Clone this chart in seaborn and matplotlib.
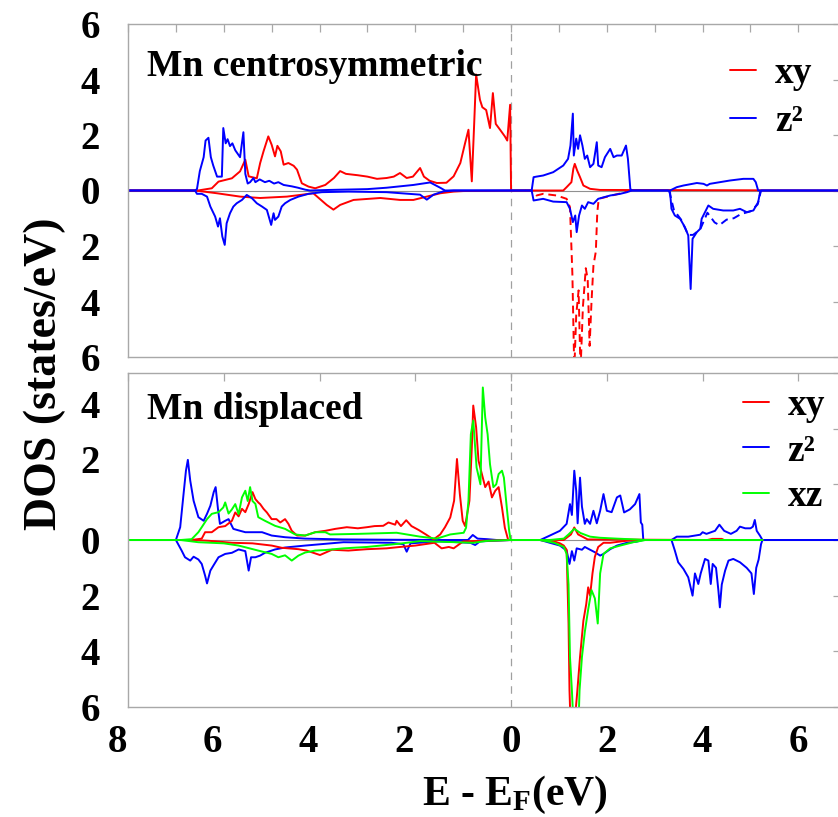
import matplotlib
matplotlib.use('Agg')
import matplotlib.pyplot as plt
from matplotlib.lines import Line2D
from matplotlib.ticker import FuncFormatter
from matplotlib.transforms import ScaledTranslation
import numpy as np
import pandas as pd
import seaborn as sns

# ---- data: (E - EF [eV], DOS [states/eV]), spin down drawn negative ----
# top panel: Mn centrosymmetric
top_xy_up = [(-8.0, 0), (-6.54, 0), (-6.25, 0.08), (-6.11, 0.32), (-5.83, 0.44), (-5.66, 0.69), (-5.55, 1.11),
             (-5.48, 0.51), (-5.31, 0.44), (-5.24, 0.99), (-5.17, 1.41), (-5.07, 1.95), (-5.0, 1.65), (-4.93, 1.23),
             (-4.88, 1.61), (-4.81, 1.41), (-4.75, 0.93), (-4.65, 0.99), (-4.54, 0.89), (-4.47, 0.75), (-4.37, 0.26),
             (-4.23, 0.14), (-4.09, 0.08), (-3.88, 0.2), (-3.7, 0.45), (-3.57, 0.7), (-3.45, 0.6), (-3.2, 0.55),
             (-3.0, 0.5), (-2.8, 0.42), (-2.6, 0.45), (-2.45, 0.5), (-2.32, 0.63), (-2.18, 0.45), (-2.05, 0.5),
             (-1.9, 0.81), (-1.82, 0.5), (-1.7, 0.35), (-1.55, 0.27), (-1.35, 0.28), (-1.2, 0.51), (-1.06, 0.99),
             (-0.96, 1.71), (-0.89, 2.19), (-0.82, 0.33), (-0.77, 2.43), (-0.73, 4.18), (-0.65, 3.27), (-0.6, 3.0),
             (-0.52, 2.9), (-0.44, 2.25), (-0.38, 3.51), (-0.32, 2.4), (-0.23, 2.19), (-0.13, 1.95), (-0.08, 1.8),
             (-0.02, 3.09), (0.0, 0.0), (1.09, 0), (1.16, 0.12), (1.26, 0.3), (1.3, 0.78), (1.33, 0.96), (1.38, 0.72),
             (1.44, 0.48), (1.51, 0.18), (1.65, 0.06), (1.86, 0.02), (6.9, 0)]
top_xy_dn = [(-8.0, 0), (-6.6, 0), (-6.14, -0.1), (-5.66, -0.22), (-5.24, -0.27), (-4.68, -0.22), (-4.13, -0.1),
             (-3.85, -0.52), (-3.71, -0.69), (-3.57, -0.52), (-3.29, -0.34), (-2.73, -0.27), (-2.32, -0.34),
             (-2.04, -0.34), (-1.76, -0.22), (-1.48, -0.1), (-1.2, -0.04), (-1.0, -0.02), (0.3, 0)]
top_xy_dn_cb = [(0.3, 0), (0.43, 0), (0.53, -0.18), (0.67, -0.12), (0.95, -0.18), (1.16, -0.3), (1.23, -0.6),
                (1.28, -3.0), (1.32, -6.5), (1.36, -4.5), (1.41, -3.6), (1.45, -6.5), (1.5, -4.2), (1.56, -2.8),
                (1.6, -3.2), (1.64, -5.6), (1.68, -4.0), (1.72, -2.7), (1.77, -2.2), (1.8, -0.8), (1.83, -0.3),
                (2.06, -0.2), (2.34, -0.08), (2.48, 0), (2.6, 0)]
top_z2_up = [(-8.0, 0), (-6.6, 0), (-6.56, 0.05), (-6.5, 0.7), (-6.42, 1.2), (-6.38, 1.8), (-6.32, 1.9), (-6.27, 1.2),
             (-6.22, 0.9), (-6.14, 0.5), (-6.04, 0.5), (-6.01, 2.25), (-5.96, 1.7), (-5.92, 1.85), (-5.87, 1.6),
             (-5.82, 1.7), (-5.76, 1.45), (-5.7, 1.3), (-5.66, 1.2), (-5.59, 2.1), (-5.55, 0.6), (-5.5, 0.25),
             (-5.45, 0.3), (-5.38, 0.45), (-5.34, 0.3), (-5.25, 0.4), (-5.14, 0.3), (-5.05, 0.35), (-4.95, 0.25),
             (-4.86, 0.3), (-4.75, 0.2), (-4.58, 0.15), (-4.45, 0.1), (-4.3, 0.03), (-4.2, 0), (-3.8, 0.02),
             (-3.0, 0.05), (-2.6, 0.1), (-2.04, 0.2), (-1.69, 0.29), (-1.48, 0.1), (-1.38, 0.0), (0.43, 0),
             (0.47, 0.48), (0.53, 0.5), (0.67, 0.54), (0.88, 0.66), (1.09, 0.9), (1.19, 1.14), (1.24, 1.62),
             (1.29, 2.77), (1.31, 1.26), (1.36, 1.87), (1.4, 1.5), (1.44, 1.99), (1.49, 1.62), (1.54, 1.14),
             (1.59, 1.26), (1.65, 0.84), (1.72, 0.96), (1.79, 1.74), (1.82, 0.9), (1.89, 0.84), (1.96, 1.2),
             (2.07, 1.5), (2.14, 1.2), (2.21, 1.26), (2.31, 1.26), (2.4, 1.62), (2.44, 1.14), (2.49, 0.06),
             (2.52, 0), (3.32, 0), (3.46, 0.12), (3.6, 0.18), (3.88, 0.27), (4.02, 0.24), (4.09, 0.18), (4.15, 0.24),
             (4.36, 0.3), (4.57, 0.36), (4.85, 0.42), (5.06, 0.42), (5.11, 0.3), (5.16, 0), (6.9, 0)]
top_z2_dn = [(-8.0, 0), (-6.6, 0), (-6.56, -0.12), (-6.46, -0.12), (-6.35, -0.22), (-6.28, -0.58), (-6.18, -0.94),
             (-6.12, -1.3), (-6.08, -1.0), (-6.03, -1.66), (-5.98, -1.96), (-5.94, -1.18), (-5.87, -0.82),
             (-5.8, -0.58), (-5.73, -0.46), (-5.62, -0.34), (-5.52, -0.16), (-5.41, -0.28), (-5.31, -0.46),
             (-5.2, -0.58), (-5.1, -0.7), (-5.01, -1.24), (-4.96, -0.82), (-4.93, -1.06), (-4.86, -0.94),
             (-4.79, -0.58), (-4.72, -0.46), (-4.61, -0.34), (-4.44, -0.22), (-4.23, -0.12), (-3.95, -0.06),
             (-3.4, -0.04), (-2.6, -0.06), (-1.9, -0.15), (-1.76, -0.33), (-1.62, -0.15), (-1.41, -0.03),
             (-1.2, 0), (0.43, 0), (0.47, -0.36), (0.67, -0.3), (0.88, -0.4), (1.16, -0.42), (1.23, -0.66),
             (1.29, -1.14), (1.34, -0.9), (1.37, -1.5), (1.42, -0.9), (1.48, -0.54), (1.54, -0.66), (1.61, -0.42),
             (1.72, -0.48), (1.82, -0.3), (2.07, -0.18), (2.28, -0.12), (2.42, -0.06), (2.52, 0), (3.28, 0),
             (3.32, -0.06), (3.35, -0.66), (3.42, -0.9), (3.53, -1.02), (3.63, -1.32), (3.7, -1.62), (3.75, -3.55),
             (3.79, -1.74), (3.88, -1.5), (3.95, -1.38), (3.98, -1.02), (4.05, -0.78), (4.12, -0.54), (4.22, -0.66),
             (4.43, -0.72), (4.64, -0.72), (4.78, -0.66), (4.92, -0.78), (5.06, -0.72), (5.16, -0.42), (5.2, -0.06),
             (5.23, 0), (6.9, 0)]
top_z2_dn_cb = [(3.3, 0), (3.4, -0.7), (3.55, -1.05), (3.7, -1.6), (3.8, -1.6), (3.95, -1.4), (4.1, -0.8),
                (4.25, -1.15), (4.35, -1.25), (4.5, -1.05), (4.65, -1.0), (4.8, -0.85), (5.0, -0.75), (5.15, -0.5),
                (5.22, 0)]

# bottom panel: Mn displaced
bot_z2_up = [(-8.0, 0), (-7.0, 0), (-6.91, 0.46), (-6.84, 1.65), (-6.79, 2.49), (-6.75, 2.88), (-6.7, 2.13),
             (-6.63, 1.41), (-6.53, 0.82), (-6.42, 0.69), (-6.35, 0.94), (-6.28, 1.23), (-6.21, 1.72), (-6.17, 1.9),
             (-6.12, 1.1), (-6.08, 0.58), (-5.97, 0.69), (-5.9, 0.75), (-5.8, 0.4), (-5.7, 0.35), (-5.55, 0.28),
             (-5.2, 0.28), (-5.0, 0.16), (-4.72, 0.1), (-4.3, 0.05), (-3.5, 0.02), (-1.5, 0.0), (-0.9, 0.0),
             (-0.8, 0.18), (-0.7, 0.05), (-0.5, 0.03), (-0.3, 0), (0.61, 0), (0.81, 0.16), (1.02, 0.33), (1.16, 0.58),
             (1.23, 1.29), (1.27, 0.9), (1.32, 2.49), (1.36, 1.77), (1.39, 0.6), (1.44, 2.24), (1.48, 1.2),
             (1.54, 0.58), (1.58, 0.75), (1.65, 0.58), (1.72, 1.05), (1.79, 0.6), (1.86, 1.05), (1.93, 1.65),
             (2.0, 1.05), (2.1, 1.0), (2.21, 1.53), (2.28, 1.6), (2.36, 0.99), (2.48, 1.1), (2.59, 1.29),
             (2.68, 1.65), (2.71, 0.63), (2.74, 0.55), (2.76, 0.03), (2.77, 0), (3.35, 0), (3.46, 0.12), (3.7, 0.12),
             (3.95, 0.19), (4.0, 0.28), (4.08, 0.22), (4.26, 0.33), (4.35, 0.55), (4.45, 0.33), (4.59, 0.22),
             (4.71, 0.33), (4.78, 0.48), (4.89, 0.42), (5.0, 0.42), (5.05, 0.48), (5.09, 0.72), (5.13, 0.33),
             (5.2, 0.15), (5.25, 0), (6.9, 0)]
bot_z2_dn = [(-8.0, 0), (-7.0, 0), (-6.88, -0.38), (-6.81, -0.62), (-6.7, -0.74), (-6.63, -0.6), (-6.53, -0.7),
             (-6.46, -0.86), (-6.39, -1.28), (-6.35, -1.56), (-6.28, -1.1), (-6.21, -0.9), (-6.11, -0.62),
             (-5.97, -0.5), (-5.83, -0.46), (-5.69, -0.34), (-5.55, -0.4), (-5.48, -1.1), (-5.43, -0.62),
             (-5.34, -0.62), (-5.24, -0.56), (-5.14, -0.46), (-4.93, -0.34), (-4.72, -0.27), (-4.3, -0.2),
             (-3.9, -0.14), (-3.5, -0.08), (-2.5, -0.1), (-2.25, -0.15), (-2.18, -0.42), (-2.1, -0.12),
             (-1.5, -0.05), (-0.85, -0.1), (-0.75, -0.18), (-0.65, -0.05), (0.0, 0), (0.61, 0), (0.81, -0.1),
             (1.02, -0.2), (1.16, -0.38), (1.22, -0.86), (1.27, -0.4), (1.32, -0.74), (1.37, -0.3), (1.48, -0.35),
             (1.54, -0.25), (1.65, -0.35), (1.75, -0.44), (1.86, -0.56), (1.93, -0.5), (2.07, -0.33), (2.21, -0.2),
             (2.42, -0.1), (2.62, -0.06), (2.75, 0), (3.35, 0), (3.42, -0.38), (3.49, -0.8), (3.6, -1.04),
             (3.7, -1.34), (3.79, -2.0), (3.84, -1.2), (3.91, -1.58), (3.96, -1.2), (4.05, -0.68), (4.12, -0.74),
             (4.17, -1.58), (4.21, -0.86), (4.28, -1.0), (4.33, -1.82), (4.36, -2.42), (4.4, -1.6), (4.47, -1.1),
             (4.54, -0.74), (4.64, -0.68), (4.78, -0.8), (4.92, -1.0), (5.02, -1.2), (5.07, -1.94), (5.12, -1.0),
             (5.17, -0.7), (5.22, -0.15), (5.25, 0), (6.9, 0)]
bot_xy_up = [(-8.0, 0), (-6.67, 0), (-6.46, 0.05), (-6.39, 0.28), (-6.25, 0.28), (-6.11, 0.46), (-5.97, 0.5),
             (-5.83, 0.69), (-5.76, 0.99), (-5.69, 0.85), (-5.62, 1.12), (-5.55, 1.0), (-5.48, 1.29), (-5.4, 1.72),
             (-5.34, 1.47), (-5.28, 1.35), (-5.24, 1.29), (-5.17, 1.12), (-5.1, 0.99), (-5.0, 0.75), (-4.9, 0.75),
             (-4.82, 0.63), (-4.72, 0.75), (-4.65, 0.58), (-4.58, 0.33), (-4.47, 0.16), (-4.3, 0.16), (-4.09, 0.28),
             (-3.88, 0.33), (-3.67, 0.4), (-3.43, 0.46), (-3.2, 0.42), (-3.01, 0.46), (-2.85, 0.5), (-2.67, 0.51),
             (-2.56, 0.63), (-2.42, 0.55), (-2.39, 0.69), (-2.3, 0.5), (-2.19, 0.71), (-2.08, 0.5), (-1.93, 0.36),
             (-1.78, 0.2), (-1.62, 0.02), (-1.48, 0.2), (-1.38, 0.46), (-1.27, 0.81), (-1.19, 1.41), (-1.13, 2.91),
             (-1.07, 1.65), (-1.01, 0.69), (-0.96, 0.5), (-0.87, 1.41), (-0.82, 3.33), (-0.79, 4.83), (-0.73, 4.05),
             (-0.68, 2.85), (-0.61, 2.37), (-0.54, 1.9), (-0.47, 2.1), (-0.4, 1.53), (-0.33, 1.77), (-0.26, 1.9),
             (-0.19, 1.17), (-0.13, 0.44), (-0.06, 0), (1.1, 0), (1.25, 0.2), (1.32, 0.45), (1.4, 0.2), (1.6, 0.02),
             (4.1, 0), (4.2, 0.04), (4.4, 0.04), (4.45, 0), (5.25, 0)]
bot_xy_dn = [(-8.0, 0), (-6.6, 0), (-6.3, -0.03), (-5.83, -0.1), (-5.4, -0.12), (-5.0, -0.2), (-4.79, -0.28),
             (-4.44, -0.33), (-4.27, -0.38), (-3.99, -0.54), (-3.74, -0.35), (-3.4, -0.38), (-3.01, -0.33),
             (-2.6, -0.3), (-2.32, -0.25), (-2.0, -0.2), (-1.6, -0.1), (-1.45, -0.3), (-1.3, -0.25), (-1.2, -0.3),
             (-1.0, -0.05), (-0.6, -0.03), (0.0, 0), (0.6, 0), (0.9, -0.05), (1.02, -0.12), (1.1, -0.2),
             (1.16, -0.35), (1.2, -3.0), (1.22, -5.4), (1.24, -6.5), (1.33, -6.5), (1.38, -5.5), (1.44, -4.2),
             (1.51, -2.9), (1.57, -2.3), (1.61, -1.7), (1.65, -2.0), (1.7, -1.2), (1.75, -0.6), (1.82, -0.25),
             (1.93, -0.1), (2.07, -0.1), (2.4, -0.03), (2.6, 0), (5.25, 0)]
bot_xz_up = [(-8.0, 0), (-6.9, 0), (-6.67, 0.03), (-6.53, 0.28), (-6.46, 0.46), (-6.35, 0.75), (-6.25, 0.94),
             (-6.11, 1.0), (-6.01, 1.17), (-5.97, 1.35), (-5.9, 0.95), (-5.83, 1.1), (-5.76, 1.29), (-5.69, 0.93),
             (-5.62, 1.53), (-5.55, 1.77), (-5.5, 1.4), (-5.45, 1.9), (-5.4, 1.4), (-5.34, 1.3), (-5.28, 0.82),
             (-5.14, 0.69), (-4.93, 0.51), (-4.72, 0.4), (-4.51, 0.2), (-4.3, 0.16), (-4.09, 0.28), (-3.88, 0.28),
             (-3.78, 0.2), (-3.2, 0.22), (-2.39, 0.26), (-1.9, 0.12), (-1.55, 0.05), (-1.27, 0.2), (-0.99, 0.26),
             (-0.94, 0.44), (-0.89, 1.41), (-0.84, 3.8), (-0.79, 4.29), (-0.72, 2.6), (-0.64, 2.0), (-0.59, 5.48),
             (-0.54, 4.4), (-0.49, 3.8), (-0.44, 2.72), (-0.37, 1.9), (-0.31, 2.0), (-0.26, 2.37), (-0.19, 2.49),
             (-0.15, 2.24), (-0.09, 1.17), (-0.04, 0.33), (-0.01, 0), (0.8, 0), (1.1, 0.05), (1.2, 0.2), (1.32, 0.4),
             (1.45, 0.25), (1.65, 0.12), (1.86, 0.08), (2.2, 0.05), (2.6, 0.02), (2.8, 0), (5.25, 0)]
bot_xz_dn = [(-8.0, 0), (-6.9, 0), (-6.53, -0.08), (-6.0, -0.12), (-5.69, -0.2), (-5.28, -0.38), (-5.0, -0.5),
             (-4.86, -0.62), (-4.72, -0.55), (-4.58, -0.74), (-4.44, -0.56), (-4.3, -0.45), (-4.09, -0.38),
             (-3.88, -0.36), (-3.5, -0.3), (-3.01, -0.25), (-2.32, -0.13), (-1.9, -0.04), (-1.5, -0.06),
             (-0.79, -0.1), (-0.5, -0.03), (0.0, 0), (0.6, 0), (0.9, -0.1), (1.1, -0.25), (1.16, -0.5), (1.2, -1.6),
             (1.23, -4.2), (1.27, -5.4), (1.3, -6.5), (1.41, -6.5), (1.43, -5.4), (1.48, -4.2), (1.54, -3.3),
             (1.61, -2.5), (1.68, -1.8), (1.75, -2.1), (1.81, -3.0), (1.86, -1.2), (1.93, -0.5), (2.07, -0.3),
             (2.28, -0.2), (2.55, -0.08), (2.75, -0.02), (2.8, 0), (5.25, 0)]

orbital_colors = {'xy': '#ff0000', 'z²': '#0000ff', 'xz': '#00ff00'}

# (panel, orbital, line style, points)
series = [
    ('top', 'xy', 'solid', top_xy_up), ('top', 'xy', 'solid', top_xy_dn), ('top', 'xy', 'dashed', top_xy_dn_cb),
    ('top', 'z²', 'solid', top_z2_up), ('top', 'z²', 'solid', top_z2_dn), ('top', 'z²', 'dashed', top_z2_dn_cb),
    ('bot', 'z²', 'solid', bot_z2_up), ('bot', 'z²', 'solid', bot_z2_dn),
    ('bot', 'xy', 'solid', bot_xy_up), ('bot', 'xy', 'solid', bot_xy_dn),
    ('bot', 'xz', 'solid', bot_xz_up), ('bot', 'xz', 'solid', bot_xz_dn),
]
frames = []
for i, (panel, orb, ls, pts) in enumerate(series):
    d = pd.DataFrame(pts, columns=['E', 'DOS'])
    d['panel'] = panel
    d['orbital'] = orb
    d['line'] = ls
    d['sid'] = i
    frames.append(d)
df = pd.concat(frames, ignore_index=True)

sns.set_theme(style='white')
plt.rcParams['font.family'] = ['Liberation Serif', 'DejaVu Serif']
plt.rcParams['font.weight'] = 'bold'
plt.rcParams['text.color'] = 'black'
plt.rcParams['xtick.labelcolor'] = 'black'
plt.rcParams['ytick.labelcolor'] = 'black'
plt.rcParams['mathtext.fontset'] = 'custom'
plt.rcParams['mathtext.rm'] = 'Liberation Serif:bold'
plt.rcParams['mathtext.it'] = 'Liberation Serif:bold'
plt.rcParams['mathtext.bf'] = 'Liberation Serif:bold'

fig = plt.figure(figsize=(8.38, 8.17), dpi=100)
ax_top = fig.add_axes([128 / 838, 1 - 357 / 817, 713 / 838, 333 / 817])
ax_bot = fig.add_axes([128 / 838, 1 - 707 / 817, 713 / 838, 334 / 817])

spine_gray = '#a8a8a8'
fs = 28

for ax, panel, order, title in [(ax_top, 'top', ['xy', 'z²'], 'Mn centrosymmetric'),
                                (ax_bot, 'bot', ['z²', 'xy', 'xz'], 'Mn displaced')]:
    ax.axhline(0, color='#909090', lw=0.8, zorder=0)
    ax.axvline(0, color='#a0a0a0', lw=0.9, ls=(0, (6, 5)), zorder=0)
    sns.lineplot(data=df[df.panel == panel], x='E', y='DOS', hue='orbital', hue_order=order,
                 palette=orbital_colors, style='line', style_order=['solid', 'dashed'],
                 dashes={'solid': '', 'dashed': (4, 2.5)}, units='sid', estimator=None, sort=False,
                 lw=1.4, legend=False, ax=ax)
    ax.set_xlim(-8, 6.89)
    ax.set_ylim(-6, 6)
    ax.set_xlabel('')
    ax.set_ylabel('')
    for s in ax.spines.values():
        s.set_color(spine_gray)
        s.set_linewidth(1.0)
    ax.tick_params(direction='in', length=6, width=0.9, color=spine_gray, top=True, right=True,
                   labelsize=fs, labelcolor='black', pad=20)
    ty = 1 - (67 - 24) / 333 if panel == 'top' else 1 - (410 - 373) / 334
    ax.text(19 / 713, ty, title, transform=ax.transAxes, fontsize=27, fontweight='bold',
            va='center', ha='left', color='black')
    labels = [o for o in ['xy', 'z²', 'xz'] if o in order]
    handles = [Line2D([0], [0], color=orbital_colors[o], lw=1.4) for o in labels]
    if panel == 'top':
        anchor, spacing = (0.844, 0.905), 0.36
    else:
        anchor, spacing = (0.862, 0.955), 0.28
    ax.legend(handles, labels, loc='upper left', bbox_to_anchor=anchor, frameon=False, fontsize=27,
              handlelength=0.7, handletextpad=0.5, labelspacing=spacing, borderpad=0, borderaxespad=0)

ytick_vals = list(range(-6, 7, 2))
ax_top.set_yticks(ytick_vals)
ax_top.yaxis.set_major_formatter(FuncFormatter(lambda v, p: f'{abs(v):g}'))
ax_bot.set_yticks(ytick_vals)
ax_bot.set_yticklabels([f'{abs(v)}' if v < 6 else '' for v in ytick_vals])

ax_top.set_xticks(np.arange(-8, 7, 1))
ax_top.tick_params(labelbottom=False)
ax_bot.set_xticks(np.arange(-8, 7, 2))
ax_bot.set_xticklabels([f'{abs(v)}' for v in range(-8, 7, 2)])
ax_bot.tick_params(axis='x', pad=12)

# label offsets as they appear in the original figure
shift_x = ScaledTranslation(-11 / 100, 0, fig.dpi_scale_trans)
for tick, v in zip(ax_bot.xaxis.get_major_ticks(), range(-8, 7, 2)):
    if v < 0:
        tick.label1.set_transform(tick.label1.get_transform() + shift_x)
shift_y = ScaledTranslation(0, 25 / 100, fig.dpi_scale_trans)
for tick, v in zip(ax_bot.yaxis.get_major_ticks(), ytick_vals):
    if 0 < v < 6:
        tick.label1.set_transform(tick.label1.get_transform() + shift_y)

fig.text(45 / 838, 1 - 374 / 817, 'DOS (states/eV)', rotation=90, ha='center', va='center',
         fontsize=33, fontweight='bold')
fig.text(515 / 838, 1 - 795 / 817, r'E - E$_{\rm F}$(eV)', ha='center', va='center',
         fontsize=30, fontweight='bold')

fig.savefig('out.png', dpi=100)
